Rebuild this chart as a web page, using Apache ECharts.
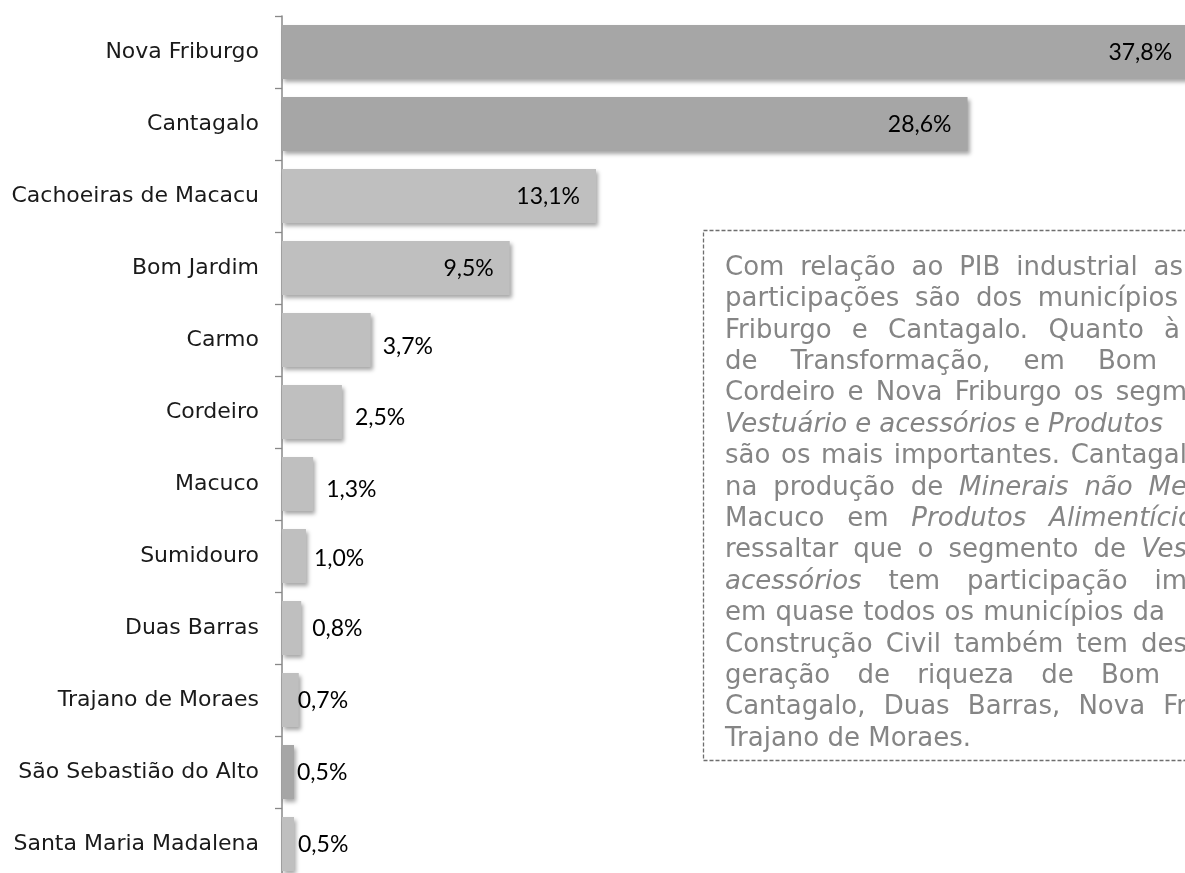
<!DOCTYPE html>
<html><head><meta charset="utf-8">
<script src="https://cdn.jsdelivr.net/npm/echarts@6/dist/echarts.min.js"></script>
<style>html,body{margin:0;padding:0;background:#fff}#c{width:1185px;height:873px}</style>
</head><body><div id="c"></div>
<script>
// ---- data ----
const categories = ['Nova Friburgo','Cantagalo','Cachoeiras de Macacu','Bom Jardim','Carmo','Cordeiro','Macuco','Sumidouro','Duas Barras','Trajano de Moraes','São Sebastião do Alto','Santa Maria Madalena'];
const values = [37.8, 28.6, 13.1, 9.5, 3.7, 2.5, 1.3, 1.0, 0.8, 0.7, 0.5, 0.5];
const darkCategories = ['Nova Friburgo','Cantagalo','São Sebastião do Alto'];
const insideLabelCategories = ['Nova Friburgo','Cantagalo','Cachoeiras de Macacu','Bom Jardim'];
// note text (visible part, _..._ = italic)
const noteLines = [
  'Com relação ao PIB industrial as',
  'participações são dos municípios',
  'Friburgo e Cantagalo. Quanto à',
  'de Transformação, em Bom',
  'Cordeiro e Nova Friburgo os segm',
  '_Vestuário e acessórios_ e _Produtos_',
  'são os mais importantes. Cantagal',
  'na produção de _Minerais não Me_',
  'Macuco em _Produtos Alimentício_',
  'ressaltar que o segmento de _Ves_',
  '_acessórios_ tem participação im',
  'em quase todos os municípios da',
  'Construção Civil também tem des',
  'geração de riqueza de Bom',
  'Cantagalo, Duas Barras, Nova Fr',
  'Trajano de Moraes.'
];

// ---- styles (not data) ----
const labelGap = [16,16,16,16,12,13,13,8,11,-1,3,4];
const labelDy  = [1,1,1,1,7,6,6,3,1,1,1,1];
const lineEnds = [1183,1178,1180,1157,1187,1163,1187,1187,1194,1187,1187,1165,1187,1160,1187,null];
const TEXT_X = 725, TEXT_Y0 = 268, TEXT_STEP = 31.4;
const BODY_FONT = '"DejaVu Sans"', BODY_SIZE = 26, BODY_WEIGHT = 'normal';

function fmt(v){ return v.toFixed(1).replace('.', ',') + '%'; }

const data = values.map((v, i) => {
  const inside = insideLabelCategories.includes(categories[i]);
  return {
    value: v,
    itemStyle: { color: darkCategories.includes(categories[i]) ? '#a6a6a6' : '#bfbfbf' },
    label: {
      position: inside ? 'insideRight' : 'right',
      distance: labelGap[i],
      offset: [0, labelDy[i]]
    }
  };
});

// justified note text
const cv = document.createElement('canvas').getContext('2d');
function fontStr(it){ return (it ? 'italic ' : '') + BODY_WEIGHT + ' ' + BODY_SIZE + 'px ' + BODY_FONT; }
const graphics = [{
  type: 'rect', silent: true,
  shape: { x: 703.5, y: 230.5, width: 700, height: 530 },
  style: { fill: 'none', stroke: '#6e6e6e', lineWidth: 1.3, lineDash: [4, 2] }
}];
noteLines.forEach((line, li) => {
  const words = [];
  let italic = false;
  line.split('_').forEach((seg, si) => {
    if (si > 0) italic = !italic;
    seg.split(' ').forEach(w => { if (w) words.push({ t: w, it: italic }); });
  });
  words.forEach(w => { cv.font = fontStr(w.it); w.w = cv.measureText(w.t).width; });
  cv.font = fontStr(false);
  const spaceW = cv.measureText(' ').width;
  const total = words.reduce((s, w) => s + w.w, 0);
  let gap = spaceW;
  if (lineEnds[li] != null && words.length > 1) gap = Math.max(spaceW * 0.6, (lineEnds[li] - TEXT_X - total) / (words.length - 1));
  let x = TEXT_X;
  const y = TEXT_Y0 + li * TEXT_STEP;
  words.forEach(w => {
    graphics.push({
      type: 'text', silent: true, x: x, y: y,
      style: { text: w.t, font: fontStr(w.it), fill: '#858585', verticalAlign: 'middle', align: 'left' }
    });
    x += w.w + gap;
  });
});

const chart = echarts.init(document.getElementById('c'), null, { renderer: 'canvas' });
chart.setOption({
  animation: false,
  backgroundColor: '#fff',
  grid: { left: 282, top: 16, width: 38 * 23.97, height: 864, containLabel: false, outerBoundsMode: 'none' },
  xAxis: { type: 'value', min: 0, max: 38, show: false },
  yAxis: {
    type: 'category', data: categories, inverse: true,
    axisLine: { show: true, lineStyle: { color: '#888', width: 1.5 } },
    axisTick: { show: true, length: 7, lineStyle: { color: '#888', width: 1.3 } },
    axisLabel: { margin: 23, color: '#1a1a1a', fontFamily: 'DejaVu Sans', fontSize: 22, padding: [3, 0, 0, 0] },
    splitLine: { show: false }
  },
  series: [{
    type: 'bar', data: data, barWidth: 54,
    itemStyle: { shadowColor: 'rgba(0,0,0,0.35)', shadowBlur: 4, shadowOffsetX: 2, shadowOffsetY: 3 },
    label: { show: true, formatter: p => fmt(p.value), color: '#000', fontFamily: 'Lato', fontSize: 23 }
  }],
  graphic: graphics
});
</script></body></html>
